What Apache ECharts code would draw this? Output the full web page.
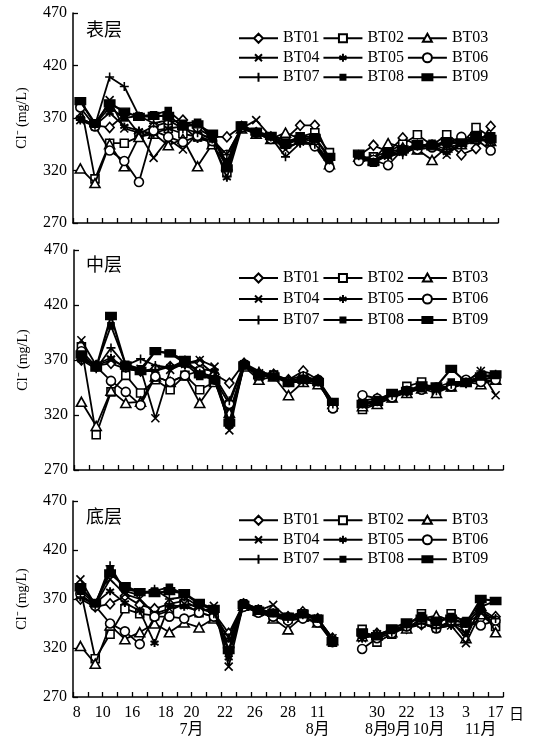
<!DOCTYPE html>
<html><head><meta charset="utf-8">
<script src="https://cdn.jsdelivr.net/npm/echarts@6/dist/echarts.min.js"></script>
<style>html,body{margin:0;padding:0;background:#fff}#c{width:537px;height:740px}</style>
</head><body><div id="c"></div>
<script>
// ---------- DATA ----------
const stations = ['BT01','BT02','BT03','BT04','BT05','BT06','BT07','BT08','BT09'];
const layerNames = ['表层','中层','底层'];
const yTickValues = [270, 320, 370, 420, 470];
// sampling slots (29 slots, slot 18 = gap with no sampling)
const dateLabels = ['8','10','16','18','20','22','26','28','11','30','22','13','3','17'];
const dateSlots  = [0.25, 2, 4, 6.25, 8, 10.25, 12.25, 14.5, 16.5, 20.5, 22.5, 24.5, 26.5, 28.5];
const monthLabels = ['7月','8月','8月','9月','10月','11月'];
const monthSlots  = [8, 16.5, 20.5, 22, 24, 27.5];

// 表层 (surface)
const surfBT01 = [370,363,361,373,355,362,366,368,360,352,352,362,356,352,350,363,363,333,null,334,344,338,351,344,344,347,335,341,362];
const surfBT02 = [385,312,346,346,352,358,360,355,352,346,318,362,355,350,345,352,356,337,null,332,333,338,345,354,344,354,345,361,352];
const surfBT03 = [322,308,345,324,352,355,344,350,324,345,325,360,355,350,356,350,348,326,null,333,330,346,342,340,330,342,345,350,348];
const surfBT04 = [368,362,387,360,356,332,350,340,355,350,330,360,368,352,340,348,345,328,null,332,332,334,338,342,343,335,346,350,347];
const surfBT05 = [370,363,375,362,358,355,360,362,350,348,313,360,355,350,343,346,345,325,null,330,330,333,337,342,344,337,345,350,348];
const surfBT06 = [380,362,339,329,309,358,352,347,353,348,335,361,356,350,345,350,343,323,null,329,330,325,340,340,342,346,352,350,339];
const surfBT07 = [368,363,409,400,372,365,368,360,356,350,335,360,356,352,333,346,345,330,null,334,328,336,335,343,345,340,344,348,350];
const surfBT08 = [386,364,380,370,372,373,377,365,366,350,328,362,355,352,347,352,352,330,null,334,327,335,340,343,346,345,347,351,352];
const surfBT09 = [386,365,384,376,371,372,372,362,364,355,322,363,357,353,345,350,351,333,null,336,328,338,340,345,343,348,346,353,350];
// 中层 (middle)
const midBT01 = [370,365,367,362,360,362,364,367,368,357,349,367,358,357,352,360,352,330,null,333,335,338,342,345,343,347,350,352,354];
const midBT02 = [382,302,341,356,340,352,343,356,343,350,320,365,355,356,350,352,350,327,null,325,330,336,346,350,342,346,350,352,355];
const midBT03 = [332,310,342,331,332,355,350,356,331,350,322,364,352,355,338,350,348,330,null,328,330,336,340,344,340,346,350,348,352];
const midBT04 = [388,365,370,364,362,317,361,367,370,364,306,366,358,357,350,352,350,330,null,330,333,336,342,344,343,345,350,360,338];
const midBT05 = [370,366,372,362,360,360,364,365,362,360,310,367,356,355,350,350,352,328,null,330,333,338,342,345,344,345,348,356,354];
const midBT06 = [378,364,351,341,329,355,350,356,360,352,330,366,356,356,350,355,352,326,null,338,335,336,342,343,345,346,352,350,352];
const midBT07 = [370,362,381,365,371,365,363,370,358,355,333,367,360,356,352,356,350,330,null,330,332,338,340,346,342,348,350,360,357];
const midBT08 = [372,364,401,366,362,378,376,367,355,353,312,366,357,355,350,353,352,332,null,330,334,340,343,344,345,350,350,355,356];
const midBT09 = [375,363,410,365,360,378,376,370,357,352,313,365,356,355,349,352,350,332,null,330,332,340,342,347,346,362,350,355,357];
// 底层 (bottom)
const botBT01 = [370,362,365,373,364,360,365,368,360,356,335,365,358,353,352,357,350,330,null,332,335,337,340,344,342,345,340,350,352];
const botBT02 = [380,309,334,360,355,353,358,365,356,352,330,364,357,353,350,355,348,326,null,339,326,334,342,355,343,355,346,354,342];
const botBT03 = [322,304,343,329,336,345,336,346,341,350,325,363,358,350,339,352,346,328,null,332,333,336,340,350,353,348,330,363,336];
const botBT04 = [390,364,390,375,370,355,360,365,362,363,301,365,358,364,350,353,350,330,null,330,334,338,342,345,340,343,325,356,345];
const botBT05 = [372,366,378,366,358,325,364,362,358,360,310,364,356,355,348,352,350,328,null,332,334,337,341,344,342,345,335,358,348];
const botBT06 = [375,363,345,337,324,352,352,350,356,352,322,362,356,352,348,350,346,326,null,319,330,335,342,345,340,348,346,343,348];
const botBT07 = [372,364,404,378,374,380,370,372,362,355,330,366,360,356,350,354,350,330,null,330,333,336,342,345,340,343,345,360,350];
const botBT08 = [378,365,400,380,377,378,382,375,365,358,316,366,360,355,352,354,350,326,null,335,332,338,344,353,346,352,348,362,368];
const botBT09 = [382,366,396,383,377,376,378,376,366,360,318,364,358,356,352,355,350,327,null,336,332,340,346,350,348,350,345,370,368];

const layerData = [
  [surfBT01,surfBT02,surfBT03,surfBT04,surfBT05,surfBT06,surfBT07,surfBT08,surfBT09],
  [midBT01,midBT02,midBT03,midBT04,midBT05,midBT06,midBT07,midBT08,midBT09],
  [botBT01,botBT02,botBT03,botBT04,botBT05,botBT06,botBT07,botBT08,botBT09]
];
const slotCount = surfBT01.length;

// ---------- STYLE / LAYOUT ----------
const SERIF = '"Liberation Serif","Times New Roman",serif';
const CJK = '"Noto Sans CJK SC",sans-serif';
const grids = [
  {left:73, top:13, width:425, height:210},
  {left:74, top:250, width:429, height:220},
  {left:73, top:501, width:430, height:196}
];
const legendTops = [30, 269, 512];
const legendLineH = [16.5, 18, 16.5];
const titleTops = [20, 255, 507];

const BB = 'M0,0M39,12';
const markers = [
  {symbol:'diamond', size:[9,10], hollow:true,
   icon:BB+'M0,6L15,6M24,6L39,6M19.5,1.5L24,6L19.5,10.5L15,6Z'},
  {symbol:'rect', size:8, hollow:true,
   icon:BB+'M0,6L15.5,6M23.5,6L39,6M15.5,2L23.5,2L23.5,10L15.5,10Z'},
  {symbol:'triangle', size:[10,9], hollow:true,
   icon:BB+'M0,6L17,6M22,6L39,6M19.5,1.5L24,9.5L15,9.5Z'},
  {symbol:'path://M0,0L10,10M10,0L0,10', size:8, hollow:false,
   icon:BB+'M0,6L39,6M16,2.5L23,9.5M23,2.5L16,9.5'},
  {symbol:'path://M5,0L5,10M0.7,2.5L9.3,7.5M0.7,7.5L9.3,2.5', size:8, hollow:false, bw:2,
   icon:BB+'M0,6L39,6M19.5,2L19.5,10M16,4L23,8M16,8L23,4'},
  {symbol:'circle', size:9, hollow:true,
   icon:BB+'M0,6L15,6M24,6L39,6M15,6A4.5,4.5,0,1,1,24,6A4.5,4.5,0,1,1,15,6Z'},
  {symbol:'path://M5,0L5,10M0,5L10,5', size:9, hollow:false,
   icon:BB+'M0,6L39,6M19.5,1.5L19.5,10.5'},
  {symbol:'rect', size:6, hollow:false,
   icon:BB+'M0,6L39,6M17,3.5L22,3.5L22,8.5L17,8.5Z'},
  {symbol:'rect', size:[10,7], hollow:false,
   icon:BB+'M0,6L39,6M14.5,3L24.5,3L24.5,9L14.5,9Z'}
];

function keyOf(v){ return (Math.round(v*4)/4).toFixed(2); }
const dateMap = {}; dateSlots.forEach((s,i)=>{ dateMap[keyOf(s)] = dateLabels[i]; });
const monthMap = {}; monthSlots.forEach((s,i)=>{ monthMap[keyOf(s)] = monthLabels[i]; });

const xAxes = [], yAxes = [], series = [], legends = [], titles = [];
grids.forEach((g, p) => {
  xAxes.push({
    type:'value', gridIndex:p, min:0, max:slotCount, interval:1, position:'bottom',
    axisLine:{show:true, onZero:false, lineStyle:{color:'#000', width:1.5}},
    axisTick:{show:true, inside:true, length:5, lineStyle:{color:'#000', width:1.3}},
    axisLabel:{show:false}, splitLine:{show:false},
    name: p === 2 ? '日' : '', nameLocation:'end', nameGap:6,
    nameTextStyle:{fontFamily:CJK, fontSize:15, color:'#000', verticalAlign:'top', padding:[9,0,0,0]}
  });
  yAxes.push({
    type:'value', gridIndex:p, min:yTickValues[0], max:yTickValues[yTickValues.length-1], interval:50,
    axisLine:{show:true, lineStyle:{color:'#000', width:1.5}},
    axisTick:{show:true, inside:true, length:5, lineStyle:{color:'#000', width:1.3}},
    axisLabel:{fontFamily:SERIF, fontSize:16, color:'#000', margin:6},
    splitLine:{show:false},
    name:'Cl\u207B (mg/L)', nameLocation:'middle', nameGap:44, nameRotate:90,
    nameTextStyle:{fontFamily:SERIF, fontSize:14, color:'#000'}
  });
  titles.push({text:layerNames[p], left:86, top:titleTops[p], padding:0,
    textStyle:{fontFamily:CJK, fontSize:18, fontWeight:'normal', color:'#000'}});
  legends.push({
    data: stations.map((s,k)=>({name:s, icon:'path://'+markers[k].icon})),
    left:238, top:legendTops[p], width:275, padding:0,
    itemWidth:39, itemHeight:12, itemGap:3, itemTextGap:3, selectedMode:false,
    textStyle:{fontFamily:SERIF, fontSize:16, color:'#000', lineHeight:legendLineH[p]}
  });
  layerData[p].forEach((arr, k) => {
    const m = markers[k];
    series.push({
      name:stations[k], type:'line', xAxisIndex:p, yAxisIndex:p,
      data: arr.map((v,i)=>[i+0.5, v == null ? '-' : v]),
      symbol:m.symbol, symbolSize:m.size, showSymbol:true, connectNulls:false,
      lineStyle:{color:'#000', width: k===8 ? 2.2 : 1.8},
      itemStyle:{color: m.hollow ? '#fff' : '#000', borderColor:'#000', borderWidth: m.bw || 1.6},
      emphasis:{disabled:true}, animation:false, z: 2 + k
    });
  });
});
// date labels axis (bottom panel)
xAxes.push({
  type:'value', gridIndex:2, min:0, max:slotCount, interval:0.25, position:'bottom',
  axisLine:{show:false}, axisTick:{show:false}, splitLine:{show:false},
  axisLabel:{show:true, margin:8, fontFamily:SERIF, fontSize:16, color:'#000',
    showMinLabel:true, showMaxLabel:true,
    formatter:(v)=> dateMap[keyOf(v)] || ''}
});
// month labels axis (bottom panel)
xAxes.push({
  type:'value', gridIndex:2, min:0, max:slotCount, interval:0.25, position:'bottom',
  axisLine:{show:false}, axisTick:{show:false}, splitLine:{show:false},
  axisLabel:{show:true, margin:25, fontFamily:SERIF+','+CJK, fontSize:16, color:'#000',
    showMinLabel:true, showMaxLabel:true,
    formatter:(v)=> monthMap[keyOf(v)] || ''}
});

const chart = echarts.init(document.getElementById('c'), null, {renderer:'canvas'});
chart.setOption({
  backgroundColor:'#fff', animation:false,
  title:titles, legend:legends, grid:grids,
  xAxis:xAxes, yAxis:yAxes, series:series
});
</script></body></html>
